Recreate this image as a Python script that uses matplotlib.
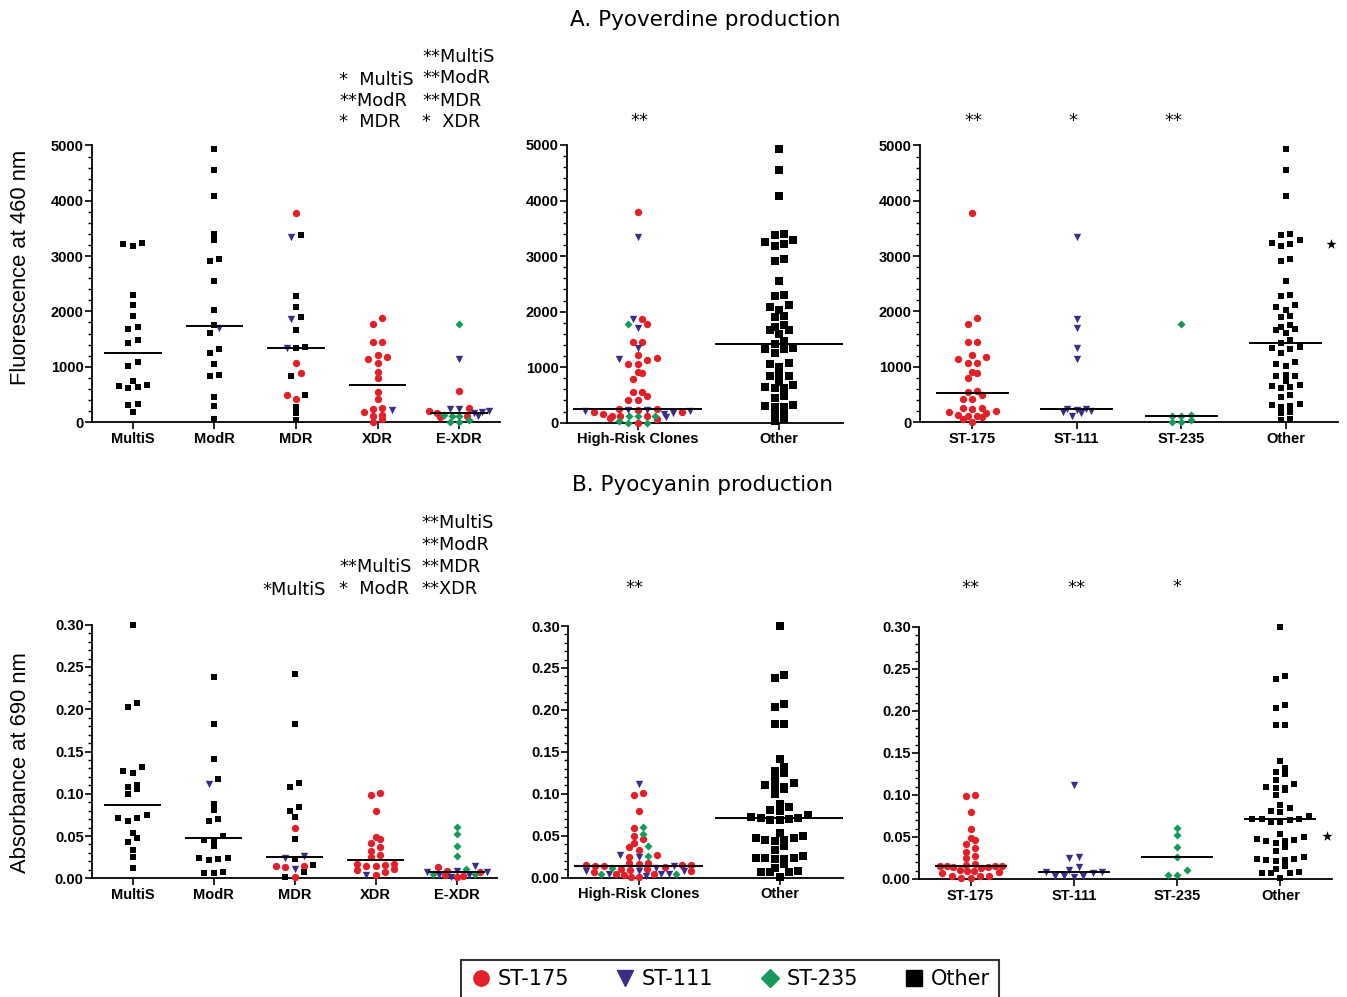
import numpy as np
import matplotlib
matplotlib.use("Agg")
import matplotlib.pyplot as plt
from matplotlib.lines import Line2D
from matplotlib.ticker import MultipleLocator, FormatStrFormatter

# ---- data: values per clone and resistance class ----
CLASSES = ["MultiS", "ModR", "MDR", "XDR", "E-XDR"]
CLONES = ["ST-175", "ST-111", "ST-235", "Other"]

# A. pyoverdine, fluorescence at 460 nm
pvd_st175 = {
    "MDR": [3788, 1062, 893, 489, 410],
    "XDR": [1876, 1773, 1454, 1454, 1170, 1212, 1134, 1062, 911, 790,
            549, 410, 247, 229, 187, 115, 127, 60, 0],
    "E-XDR": [561, 250, 190, 165, 115, 90],
}
pvd_st111 = {
    "ModR": [1703],
    "MDR": [3345, 1859, 1342],
    "XDR": [217],
    "E-XDR": [1143, 229, 229, 205, 175, 160, 108],
}
pvd_st235 = {
    "E-XDR": [1770, 126, 114, 114, 36, 0, 0],
}
pvd_other = {
    "MultiS": [3245, 3185, 3220, 2304, 2117, 1924, 1725, 1677, 1478, 1423,
               1080, 1007, 670, 627, 621, 651, 736, 326, 302, 187],
    "ModR": [4934, 4548, 4089, 3402, 3287, 2913, 2949, 2557, 2027, 1755,
             1604, 1321, 1254, 1049, 838, 850, 446, 290, 60],
    "MDR": [3384, 2280, 2087, 1906, 1665, 1333, 1351, 832, 489, 277, 157, 36],
}

# B. pyocyanin, absorbance at 690 nm
pyo_st175 = {
    "MDR": [0.059, 0.015, 0.0145, 0.0138, 0.001],
    "XDR": [0.1005, 0.0986, 0.080, 0.0493, 0.0461, 0.0414, 0.0367, 0.0327,
            0.0276, 0.0252, 0.0175, 0.0170, 0.0160, 0.0150, 0.0150, 0.0106,
            0.0099, 0.0080, 0.0040],
    "E-XDR": [0.013, 0.009, 0.007, 0.004, 0.003, 0.001],
}
pyo_st111 = {
    "ModR": [0.112],
    "MDR": [0.0265, 0.0245, 0.011],
    "XDR": [0.004],
    "E-XDR": [0.0143, 0.0083, 0.0079, 0.0075, 0.004, 0.004, 0.002],
}
pyo_st235 = {
    "E-XDR": [0.061, 0.052, 0.038, 0.026, 0.011, 0.005, 0.005],
}
pyo_other = {
    "MultiS": [0.300, 0.203, 0.207, 0.132, 0.127, 0.125, 0.108, 0.106, 0.110,
               0.0997, 0.0749, 0.0710, 0.0682, 0.0710, 0.0532, 0.0434, 0.0473,
               0.0335, 0.0256, 0.0118],
    "ModR": [0.238, 0.183, 0.141, 0.118, 0.0879, 0.0808, 0.0698, 0.0682,
             0.0501, 0.0453, 0.0453, 0.0382, 0.0237, 0.0225, 0.0217, 0.0237,
             0.0079, 0.0067, 0.0067],
    "MDR": [0.242, 0.183, 0.113, 0.108, 0.084, 0.080, 0.072, 0.047, 0.0232,
            0.016, 0.007, 0.001],
}

# significance labels (text, x px, baseline px)
pvd_sig = [
    ("*  MultiS", 339, 85), ("**ModR", 339, 106), ("*  MDR", 339, 127),
    ("**MultiS", 422, 62), ("**ModR", 422, 83), ("**MDR", 422, 106), ("*  XDR", 422, 127),
]
pvd_stars = [("**", 639, 126), ("**", 973, 126), ("*", 1073, 126), ("**", 1173, 126)]
pyo_sig = [
    ("*MultiS", 262, 595),
    ("**MultiS", 339, 572), ("*  ModR", 339, 594),
    ("**MultiS", 421, 528), ("**ModR", 421, 550), ("**MDR", 421, 572), ("**XDR", 421, 594),
]
pyo_stars = [("**", 634, 593), ("**", 970, 593), ("**", 1076, 593), ("*", 1177, 592)]

STYLE = {
    "ST-175": dict(marker="o", color="#e3202a", s=28),
    "ST-111": dict(marker="v", color="#3a2d87", s=28),
    "ST-235": dict(marker="D", color="#169a5c", s=17),
    "Other": dict(marker="s", color="black", s=24),
}

W, H = 1347, 997
fig = plt.figure(figsize=(W / 100, H / 100), dpi=100)


def rect(left, bottom, right, top):
    return [left / W, 1 - bottom / H, (right - left) / W, (bottom - top) / H]


def swarm(ax, cx, vals, maxw, d=9.4, h=6.0):
    """Prism-like scatter: points in the same row are spread sideways."""
    vals = np.asarray(vals, float)
    ypx = ax.transData.transform(np.column_stack([np.zeros_like(vals), vals]))[:, 1]
    px_per_x = ax.transData.transform((1, 0))[0] - ax.transData.transform((0, 0))[0]
    order = np.argsort(ypx, kind="stable")
    rows, cur, start = [], [order[0]], ypx[order[0]]
    for i in order[1:]:
        if ypx[i] - start < h:
            cur.append(i)
        else:
            rows.append(cur)
            cur, start = [i], ypx[i]
    rows.append(cur)
    offs = np.zeros(len(vals))
    for row in rows:
        n = len(row)
        sp = d if n == 1 else min(d, maxw / (n - 1))
        slots = (np.arange(n) - (n - 1) / 2) * sp
        slots = slots[np.argsort(np.abs(slots) + np.arange(n) * 1e-6, kind="stable")]
        for k, i in enumerate(row):
            offs[i] = slots[k]
    return cx + offs / px_per_x


def draw_group(ax, cx, points, half, sq_size, maxw):
    vals = [v for v, _ in points]
    xs = swarm(ax, cx, vals, maxw)
    for clone in CLONES:
        idx = [k for k, (_, c) in enumerate(points) if c == clone]
        if not idx:
            continue
        st = dict(STYLE[clone])
        if clone == "Other":
            st["s"] = sq_size
        ax.scatter(xs[idx], [vals[k] for k in idx], linewidths=0, clip_on=False,
                   zorder=3, **st)
    med = np.median(vals)
    ax.plot([cx - half, cx + half], [med, med], color="black", lw=1.4, zorder=4)


def style_axis(ax, ymax, major, minor, labels, xlim, fmt):
    ax.set_xlim(*xlim)
    ax.set_ylim(0, ymax)
    for sp in ("top", "right"):
        ax.spines[sp].set_visible(False)
    for sp in ("left", "bottom"):
        ax.spines[sp].set_linewidth(1.3)
    ax.yaxis.set_major_locator(MultipleLocator(major))
    ax.yaxis.set_minor_locator(MultipleLocator(minor))
    ax.yaxis.set_major_formatter(fmt)
    ax.set_xticks(range(len(labels)))
    ax.set_xticklabels(labels, fontweight="bold", fontsize=10.5, family="Liberation Sans")
    ax.tick_params(axis="y", which="major", length=5, width=1.2, pad=1, labelsize=10.5)
    ax.tick_params(axis="y", which="minor", length=3, width=1.0)
    ax.tick_params(axis="x", length=5, width=1.2, pad=2)
    for t in ax.get_yticklabels():
        t.set_fontweight("bold")
        t.set_family("Liberation Sans")


def by_class(data):
    groups = []
    for cl in CLASSES:
        pts = []
        for clone, d in zip(CLONES, data):
            pts += [(v, clone) for v in d.get(cl, [])]
        groups.append(pts)
    return groups


def by_clone(data):
    return [[(v, clone) for cl in CLASSES for v in d.get(cl, [])]
            for clone, d in zip(CLONES, data)]


def panel_row(data, rects, ymax, major, minor, fmt):
    ax1 = fig.add_axes(rects[0])
    style_axis(ax1, ymax, major, minor, CLASSES, (-0.5, 4.5), fmt)
    for i, pts in enumerate(by_class(data)):
        draw_group(ax1, i, pts, 0.34, 24, 60)

    ax2 = fig.add_axes(rects[1])
    style_axis(ax2, ymax, major, minor, ["High-Risk Clones", "Other"], (-0.5, 1.45), fmt)
    clones = by_clone(data)
    high = clones[0] + clones[1] + clones[2]
    draw_group(ax2, 0, high, 0.45, 26, 105)
    draw_group(ax2, 1, clones[3], 0.45, 26, 105)

    ax3 = fig.add_axes(rects[2])
    style_axis(ax3, ymax, major, minor, CLONES, (-0.5, 3.5), fmt)
    for i, pts in enumerate(clones):
        draw_group(ax3, i, pts, 0.34, 13, 62)
    return ax1, ax2, ax3


pvd = (pvd_st175, pvd_st111, pvd_st235, pvd_other)
pyo = (pyo_st175, pyo_st111, pyo_st235, pyo_other)

top = panel_row(pvd, [rect(92, 422, 500, 145.5), rect(567, 422.7, 843, 145),
                      rect(920, 422, 1338, 145.5)],
                5000, 1000, 200, FormatStrFormatter("%d"))
bot = panel_row(pyo, [rect(92, 878.3, 497, 624.7), rect(568, 877.7, 843, 626),
                      rect(919, 879, 1332, 627)],
                0.30, 0.05, 0.01, FormatStrFormatter("%.2f"))

top[2].scatter([3.43], [3225], marker="*", color="black", s=60, linewidths=0, clip_on=False)
bot[2].scatter([3.45], [0.0508], marker="*", color="black", s=60, linewidths=0, clip_on=False)

top[0].set_ylabel("Fluorescence at 460 nm", fontsize=15.8, family="Liberation Sans")
bot[0].set_ylabel("Absorbance at 690 nm", fontsize=15.8, family="Liberation Sans")
top[0].yaxis.set_label_coords((31 - 92) / 408, 0.5 - (267 - 283.7) / 276.5)
bot[0].yaxis.set_label_coords((31 - 92) / 405, 0.5 - (763 - 751.5) / 253.6)

fig.text(705 / W, 1 - 26 / H, "A. Pyoverdine production", ha="center", va="baseline",
         fontsize=15.5, family="DejaVu Sans")
fig.text(703 / W, 1 - 491 / H, "B. Pyocyanin production", ha="center", va="baseline",
         fontsize=15.5, family="DejaVu Sans")

for txt, x, y in pvd_sig + pyo_sig:
    fig.text(x / W, 1 - y / H, txt, ha="left", va="baseline", fontsize=12.8,
             family="DejaVu Sans")
for txt, x, y in pvd_stars + pyo_stars:
    fig.text(x / W, 1 - y / H, txt, ha="center", va="baseline", fontsize=12.8,
             family="DejaVu Sans")

handles = [Line2D([], [], linestyle="none", marker=STYLE[c]["marker"],
                  color=STYLE[c]["color"], markersize=11 if c != "ST-235" else 9)
           for c in CLONES]
leg = fig.legend(handles, CLONES, loc="lower center", bbox_to_anchor=(730 / W, -0.012),
                 ncol=4, frameon=True, fancybox=False, edgecolor="black",
                 handlelength=1.0, handletextpad=0.3, columnspacing=2.2,
                 borderpad=0.45, prop={"family": "DejaVu Sans", "size": 15})
leg.get_frame().set_linewidth(1.5)

fig.savefig("out.png", dpi=100)
